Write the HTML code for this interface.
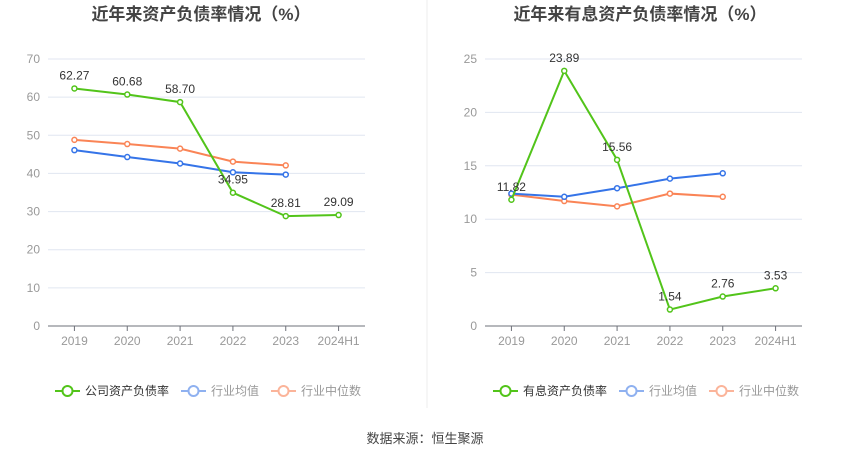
<!DOCTYPE html>
<html><head><meta charset="utf-8">
<style>
body{margin:0;background:#fff;}
svg{display:block;font-family:"Liberation Sans","Noto Sans CJK SC",sans-serif;}
</style></head>
<body>
<svg id="c" width="850" height="459" viewBox="0 0 850 459"></svg>
<script>
const categories = ["2019","2020","2021","2022","2023","2024H1"];
const leftCompany = [62.27,60.68,58.70,34.95,28.81,29.09];
const leftAvg = [46.1,44.3,42.6,40.3,39.7];
const leftMedian = [48.8,47.7,46.5,43.1,42.1];
const leftTicks = [0,10,20,30,40,50,60,70];
const rightCompany = [11.82,23.89,15.56,1.54,2.76,3.53];
const rightAvg = [12.4,12.1,12.9,13.8,14.3];
const rightMedian = [12.3,11.7,11.2,12.4,12.1];
const rightTicks = [0,5,10,15,20,25];

const NS="http://www.w3.org/2000/svg";
const svg=document.getElementById('c');
function mk(tag,attrs,parent){const e=document.createElementNS(NS,tag);for(const k in attrs)e.setAttribute(k,attrs[k]);(parent||svg).appendChild(e);return e;}

function drawChart(opt){
  const g=mk('g',{});
  
  
  const x0=opt.x0,x1=opt.x0+317,yb=326,yt=59;
  const max=opt.ticks[opt.ticks.length-1];
  const y=v=>yb-(v/max)*(yb-yt);
  const step=(x1-x0)/categories.length;
  const x=i=>x0+step*(i+0.5);
  const t=mk('text',{x:opt.cx,y:20,'text-anchor':'middle','font-size':17,'font-weight':'bold',fill:'#444'},g);
  t.textContent=opt.title;
  
  
  opt.ticks.forEach(v=>{
    if(v>0){const l=mk('line',{x1:x0,x2:x1,y1:y(v),y2:y(v),stroke:'#e0e6f1','stroke-width':1},g);
      
      }
    const tl=mk('text',{x:x0-8,y:y(v)+4,'text-anchor':'end','font-size':12,fill:'#999'},g);
    tl.textContent=v;
    
    
  });
  const ax=mk('line',{x1:x0,x2:x1,y1:yb,y2:yb,stroke:'#6e7079','stroke-width':1},g);
  
  
  categories.forEach((c,i)=>{
    const tk=mk('line',{x1:x(i),x2:x(i),y1:yb,y2:yb+5,stroke:'#6e7079'},g);
    
    
    const tl=mk('text',{x:x(i),y:yb+19,'text-anchor':'middle','font-size':12,fill:'#999'},g);
    tl.textContent=c;
    
    
  });
  const series=[[opt.median,'#fa8456','industry-median-line'],[opt.avg,'#3574e8','industry-average-line'],[opt.company,'#52c41a','company-line']];
  series.forEach(([vals,col,nm])=>{
    const p=mk('polyline',{points:vals.map((v,i)=>x(i)+','+y(v)).join(' '),fill:'none',stroke:col,'stroke-width':2},g);
    
    
    vals.forEach((v,i)=>{
      const c=mk('circle',{cx:x(i),cy:y(v),r:2.5,fill:'#fff',stroke:col,'stroke-width':1.5},g);
      
      
    });
  });
  opt.company.forEach((v,i)=>{
    const l=mk('text',{x:x(i),y:y(v)-9,'text-anchor':'middle','font-size':12,fill:'#333'},g);
    l.textContent=v.toFixed(2);
    
    
  });
  // legend
  const items=[[opt.leg,'#52c41a','#333'],['行业均值','#8fb1f0','#999'],['行业中位数','#fbb49a','#999']];
  let lx=opt.lx;
  items.forEach(([txt,col,tc])=>{
    const lg=mk('g',{},g);
    
    
    mk('line',{x1:lx,x2:lx+25,y1:391,y2:391,stroke:col,'stroke-width':2},lg);
    mk('circle',{cx:lx+12.5,cy:391,r:5,fill:'#fff',stroke:col,'stroke-width':2},lg);
    const tt=mk('text',{x:lx+30,y:395,'font-size':12,fill:tc},lg);
    tt.textContent=txt;
    lx+=30+txt.length*12+12;
  });
}
drawChart({name:'left-chart',x0:48,cx:201,title:'近年来资产负债率情况（%）',ticks:leftTicks,company:leftCompany,avg:leftAvg,median:leftMedian,leg:'公司资产负债率',lx:55});
drawChart({name:'right-chart',x0:485,cx:640,title:'近年来有息资产负债率情况（%）',ticks:rightTicks,company:rightCompany,avg:rightAvg,median:rightMedian,leg:'有息资产负债率',lx:493});
const d=mk('line',{x1:427,x2:427,y1:0,y2:408,stroke:'#eee'});


const s=mk('text',{x:425,y:443,'text-anchor':'middle','font-size':13,fill:'#444'});
s.textContent='数据来源：恒生聚源';


</script>
</body></html>
